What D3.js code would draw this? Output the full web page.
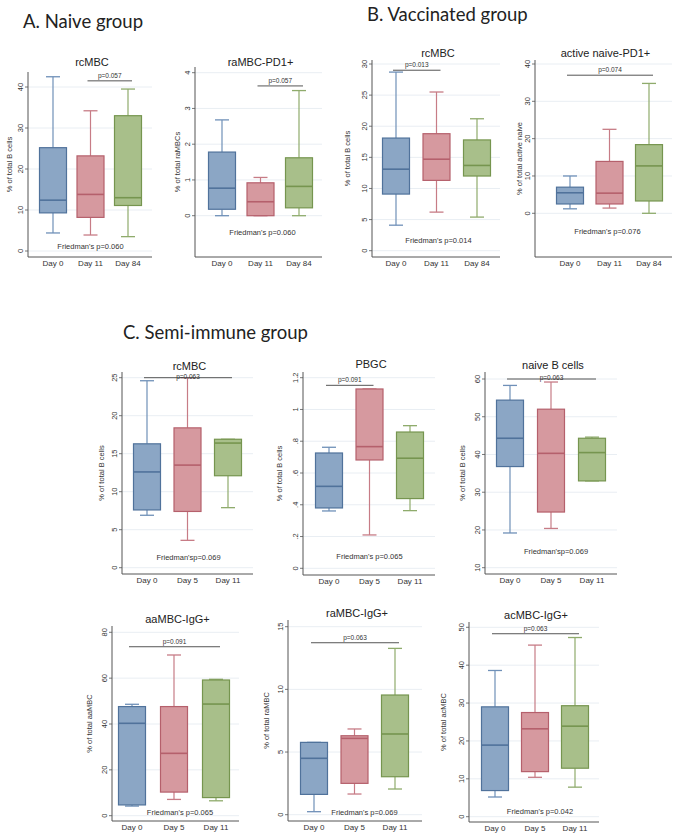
<!DOCTYPE html>
<html>
<head>
<meta charset="utf-8">
<script src="https://cdn.jsdelivr.net/npm/d3@7"></script>
<style>
  body { margin: 0; background: #fff; }
  svg { display: block; }
  text { font-family: "Liberation Sans", Arial, sans-serif; fill: #333; }
  .section { font-family: Lato, "Open Sans", sans-serif; fill: #222; }
</style>
</head>
<body>
<svg id="chart" width="679" height="839"></svg>
<script>
// ==============================
// DATA (box stats per day: [min, q1, median, q3, max])
// ==============================
const daysVacc = ["Day 0", "Day 11", "Day 84"];
const daysSemi = ["Day 0", "Day 5", "Day 11"];

const naiveRcmbc = [[4.4, 9.3, 12.4, 25.2, 42.5], [3.9, 8.2, 13.8, 23.2, 34.2], [3.5, 11.1, 13.0, 33.0, 39.5]];
const naiveRambcPd1 = [[0, 0.18, 0.77, 1.78, 2.68], [0, 0, 0.39, 0.92, 1.07], [0, 0.22, 0.82, 1.62, 3.5]];
const vaccRcmbc = [[4.1, 9.1, 13.1, 18.1, 28.7], [6.2, 11.3, 14.7, 18.8, 25.5], [5.4, 12.0, 13.7, 17.8, 21.2]];
const vaccActiveNaive = [[1.2, 2.5, 5.5, 7.0, 10], [1.4, 2.5, 5.4, 13.9, 22.5], [0, 3.3, 12.7, 18.4, 34.8]];
const semiRcmbc = [[6.9, 7.6, 12.6, 16.3, 24.6], [3.6, 7.4, 13.5, 18.4, 25.0], [7.9, 12.1, 16.4, 16.9, 16.9]];
const semiPbgc = [[0.361, 0.38, 0.516, 0.726, 0.762], [0.21, 0.682, 0.766, 1.129, 1.129], [0.363, 0.439, 0.693, 0.858, 0.898]];
const semiNaiveB = [[19.2, 36.8, 44.3, 54.4, 58.3], [20.4, 24.75, 40.3, 52.0, 59.2], [33.0, 33.0, 40.5, 44.3, 44.6]];
const semiAambcIgg = [[4.2, 4.7, 40.3, 47.6, 48.6], [7.1, 10.3, 27.2, 47.6, 70.1], [6.5, 7.9, 48.7, 59.2, 59.5]];
const semiRambcIgg = [[0.24, 1.62, 4.5, 5.77, 5.77], [1.65, 2.5, 6.09, 6.3, 6.84], [2.05, 3.03, 6.44, 9.55, 13.27]];
const semiAcmbcIgg = [[5.2, 6.9, 18.9, 29.0, 38.6], [10.4, 11.9, 23.2, 27.5, 45.3], [7.8, 12.8, 23.9, 29.3, 47.3]];

// y ticks
const ticks0to40by10 = [0, 10, 20, 30, 40];
const ticks0to4 = [0, 1, 2, 3, 4];
const ticks0to30by5 = [0, 5, 10, 15, 20, 25, 30];
const ticks0to25by5 = [0, 5, 10, 15, 20, 25];
const ticksPbgc = [0, 0.2, 0.4, 0.6, 0.8, 1, 1.2];
const ticksPbgcLabels = ["0", ".2", ".4", ".6", ".8", "1", "1.2"];
const ticks10to60 = [10, 20, 30, 40, 50, 60];
const ticks0to80by20 = [0, 20, 40, 60, 80];
const ticks0to15by5 = [0, 5, 10, 15];
const ticks0to50by10 = [0, 10, 20, 30, 40, 50];

// pairwise p brackets: [from index, to index, y value, label]
const naiveRcmbcP = [1, 2, 41.5, "p=0.057"];
const naiveRambcP = [1, 2, 3.63, "p=0.057"];
const vaccRcmbcP = [0, 1, 29.0, "p=0.013"];
const vaccActiveP = [0, 2, 37.0, "p=0.074"];
const semiRcmbcP = [0, 2, 25.0, "p=0.063"];
const semiPbgcP = [0, 1, 1.152, "p=0.091"];
const semiNaiveP = [0, 2, 60, "p=0.063"];
const semiAambcP = [0, 2, 73.7, "p=0.091"];
const semiRambcP = [0, 2, 13.72, "p=0.063"];
const semiAcmbcP = [0, 2, 48.3, "p=0.063"];

// ==============================
// PANEL LAYOUT
// ==============================
const panels = [
  { title: "rcMBC", ylab: "% of total B cells", cats: daysVacc, stats: naiveRcmbc, ticks: ticks0to40by10,
    p: naiveRcmbcP, fried: "Friedman's p=0.060", friedY: 1.0, friedDx: 0,
    ax: 28, axR: 152, cx: [53, 128], y0: 251, y1: 87, top: 72, bot: 257, titleY: 62, ylabDx: -16, pText: -3 },
  { title: "raMBC-PD1+", ylab: "% of total raMBCs", cats: daysVacc, stats: naiveRambcPd1, ticks: ticks0to4,
    p: naiveRambcP, fried: "Friedman's p=0.060", friedY: -0.48, friedDx: 2,
    ax: 195, axR: 322, cx: [222, 299], y0: 215.7, y1: 72.7, top: 67, bot: 257, titleY: 62, ylabDx: -15, pText: -3 },
  { title: "rcMBC", ylab: "% of total B cells", cats: daysVacc, stats: vaccRcmbc, ticks: ticks0to30by5,
    p: vaccRcmbcP, fried: "Friedman's p=0.014", friedY: 1.7, friedDx: 2,
    ax: 372, axR: 500, cx: [396, 477], y0: 250.7, y1: 64, top: 60, bot: 257, titleY: 53, ylabDx: -22, pText: -3 },
  { title: "active naive-PD1+", ylab: "% of total active naive", cats: daysVacc, stats: vaccActiveNaive, ticks: ticks0to40by10,
    p: vaccActiveP, fried: "Friedman's p=0.076", friedY: -5.0, friedDx: -2,
    ax: 535, axR: 672, cx: [570, 649], y0: 213.3, y1: 64, top: 60, bot: 257, titleY: 53, ylabDx: -13, pText: -3 },
  { title: "rcMBC", ylab: "% of total B cells", cats: daysSemi, stats: semiRcmbc, ticks: ticks0to25by5,
    p: semiRcmbcP, fried: "Friedman'sp=0.069", friedY: 1.28, friedDx: 1,
    ax: 122, axR: 253, cx: [147, 228], y0: 567.7, y1: 377.7, top: 372, bot: 574, titleY: 366, ylabDx: -18, pText: 1 },
  { title: "PBGC", ylab: "% of total B cells", cats: daysSemi, stats: semiPbgc, ticks: ticksPbgc, tickLabels: ticksPbgcLabels,
    p: semiPbgcP, fried: "Friedman's p=0.065", friedY: 0.077, friedDx: 0,
    ax: 303, axR: 435, cx: [329, 410], y0: 568.3, y1: 377.7, top: 372, bot: 575, titleY: 364, ylabDx: -21, pText: -3 },
  { title: "naive B cells", ylab: "% of total B cells", cats: daysSemi, stats: semiNaiveB, ticks: ticks10to60,
    p: semiNaiveP, fried: "Friedman'sp=0.069", friedY: 14.2, friedDx: 5,
    ax: 485, axR: 617, cx: [510, 592], y0: 567.7, y1: 379, top: 372, bot: 574, titleY: 365, ylabDx: -20, pText: 1 },
  { title: "aaMBC-IgG+", ylab: "% of total aaMBC", cats: daysSemi, stats: semiAambcIgg, ticks: ticks0to80by20,
    p: semiAambcP, fried: "Friedman's p=0.065", friedY: 1.2, friedDx: 6,
    ax: 112, axR: 239, cx: [132, 216], y0: 815.7, y1: 632.3, top: 626, bot: 821, titleY: 619, ylabDx: -20, pText: -3 },
  { title: "raMBC-IgG+", ylab: "% of total raMBC", cats: daysSemi, stats: semiRambcIgg, ticks: ticks0to15by5,
    p: semiRambcP, fried: "Friedman's p=0.069", friedY: 0.19, friedDx: 10,
    ax: 288, axR: 422, cx: [314, 395], y0: 814.7, y1: 626.7, top: 620, bot: 821, titleY: 613, ylabDx: -19, pText: -3 },
  { title: "acMBC-IgG+", ylab: "% of total acMBC", cats: daysSemi, stats: semiAcmbcIgg, ticks: ticks0to50by10,
    p: semiAcmbcP, fried: "Friedman's p=0.042", friedY: 1.3, friedDx: 5,
    ax: 469, axR: 599, cx: [495, 575], y0: 816.7, y1: 627.3, top: 622, bot: 822, titleY: 615, ylabDx: -23, pText: -3 }
];

const boxColors = [
  { fill: "#8ba6c5", stroke: "#50729b", whisker: "#6f90b8" },
  { fill: "#d6999f", stroke: "#b5606c", whisker: "#c77c86" },
  { fill: "#a8bf8a", stroke: "#76954f", whisker: "#8fab6c" }
];

const svg = d3.select("#chart");

// ==============================
// SECTION HEADINGS
// ==============================
svg.append("text").attr("class", "section").attr("x", 23).attr("y", 28).attr("font-size", 18.5).text("A. Naive group");
svg.append("text").attr("class", "section").attr("x", 367).attr("y", 21).attr("font-size", 18.5).text("B. Vaccinated group");
svg.append("text").attr("class", "section").attr("x", 123).attr("y", 339).attr("font-size", 18.5).text("C. Semi-immune group");

// ==============================
// PANELS
// ==============================
panels.forEach(drawPanel);

function drawPanel(pn) {
  const g = svg.append("g");
  const ticks = pn.ticks;
  const y = d3.scaleLinear()
    .domain([ticks[0], ticks[ticks.length - 1]])
    .range([pn.y0, pn.y1]);
  const x = d3.scalePoint().domain(pn.cats).range(pn.cx);
  const boxW = 27;
  const capW = 14;

  // gridlines
  g.selectAll(".grid").data(ticks).enter().append("line")
    .attr("x1", pn.ax).attr("x2", pn.axR)
    .attr("y1", d => y(d)).attr("y2", d => y(d))
    .attr("stroke", "#e9eef3").attr("stroke-width", 1);

  // boxes
  pn.stats.forEach((s, i) => {
    const c = boxColors[i];
    const cx = x(pn.cats[i]);
    const [mn, q1, md, q3, mx] = s;
    g.append("line").attr("x1", cx).attr("x2", cx).attr("y1", y(q3)).attr("y2", y(mx))
      .attr("stroke", c.whisker).attr("stroke-width", 1.2);
    g.append("line").attr("x1", cx).attr("x2", cx).attr("y1", y(q1)).attr("y2", y(mn))
      .attr("stroke", c.whisker).attr("stroke-width", 1.2);
    [mn, mx].forEach(v => {
      g.append("line").attr("x1", cx - capW / 2).attr("x2", cx + capW / 2)
        .attr("y1", y(v)).attr("y2", y(v))
        .attr("stroke", c.whisker).attr("stroke-width", 1.3);
    });
    g.append("rect")
      .attr("x", cx - boxW / 2).attr("width", boxW)
      .attr("y", y(q3)).attr("height", Math.max(0.5, y(q1) - y(q3)))
      .attr("fill", c.fill).attr("stroke", c.stroke).attr("stroke-width", 1.2);
    g.append("line").attr("x1", cx - boxW / 2).attr("x2", cx + boxW / 2)
      .attr("y1", y(md)).attr("y2", y(md))
      .attr("stroke", c.stroke).attr("stroke-width", 1.6);
  });

  // y axis
  g.append("line").attr("x1", pn.ax).attr("x2", pn.ax).attr("y1", pn.top).attr("y2", pn.bot)
    .attr("stroke", "#555").attr("stroke-width", 1);
  g.selectAll(".tk").data(ticks).enter().append("line")
    .attr("x1", pn.ax - 3).attr("x2", pn.ax)
    .attr("y1", d => y(d)).attr("y2", d => y(d))
    .attr("stroke", "#555").attr("stroke-width", 0.8);
  g.selectAll(".tl").data(ticks).enter().append("text")
    .attr("transform", d => `translate(${pn.ax - 5},${y(d)}) rotate(-90)`)
    .attr("text-anchor", "middle")
    .attr("font-size", 7.5)
    .text((d, i) => pn.tickLabels ? pn.tickLabels[i] : d);

  // x axis
  g.append("line").attr("x1", pn.ax).attr("x2", pn.axR).attr("y1", pn.bot).attr("y2", pn.bot)
    .attr("stroke", "#555").attr("stroke-width", 1);
  g.selectAll(".xl").data(pn.cats).enter().append("text")
    .attr("x", d => x(d)).attr("y", pn.bot + 8.5)
    .attr("text-anchor", "middle").attr("font-size", 8)
    .text(d => d);

  // labels
  g.append("text").attr("x", (pn.ax + pn.axR) / 2 + 2).attr("y", pn.titleY + 4)
    .attr("text-anchor", "middle").attr("font-size", 11).style("fill", "#222")
    .text(pn.title);
  g.append("text")
    .attr("transform", `translate(${pn.ax + pn.ylabDx},${(pn.top + pn.bot) / 2}) rotate(-90)`)
    .attr("text-anchor", "middle").attr("font-size", 7.5)
    .text(pn.ylab);

  // p bracket
  const [a, b, pv, plab] = pn.p;
  const xa = x(pn.cats[a]) - 3, xb = x(pn.cats[b]) + 4;
  g.append("line").attr("x1", xa).attr("x2", xb).attr("y1", y(pv)).attr("y2", y(pv))
    .attr("stroke", "#555").attr("stroke-width", 1);
  g.append("text").attr("x", (xa + xb) / 2).attr("y", y(pv) + pn.pText)
    .attr("text-anchor", "middle").attr("font-size", 6.5)
    .text(plab);

  // Friedman annotation
  g.append("text").attr("x", x(pn.cats[1]) + pn.friedDx).attr("y", y(pn.friedY) + 2.5)
    .attr("text-anchor", "middle").attr("font-size", 7.5)
    .text(pn.fried);
}
</script>
</body>
</html>
